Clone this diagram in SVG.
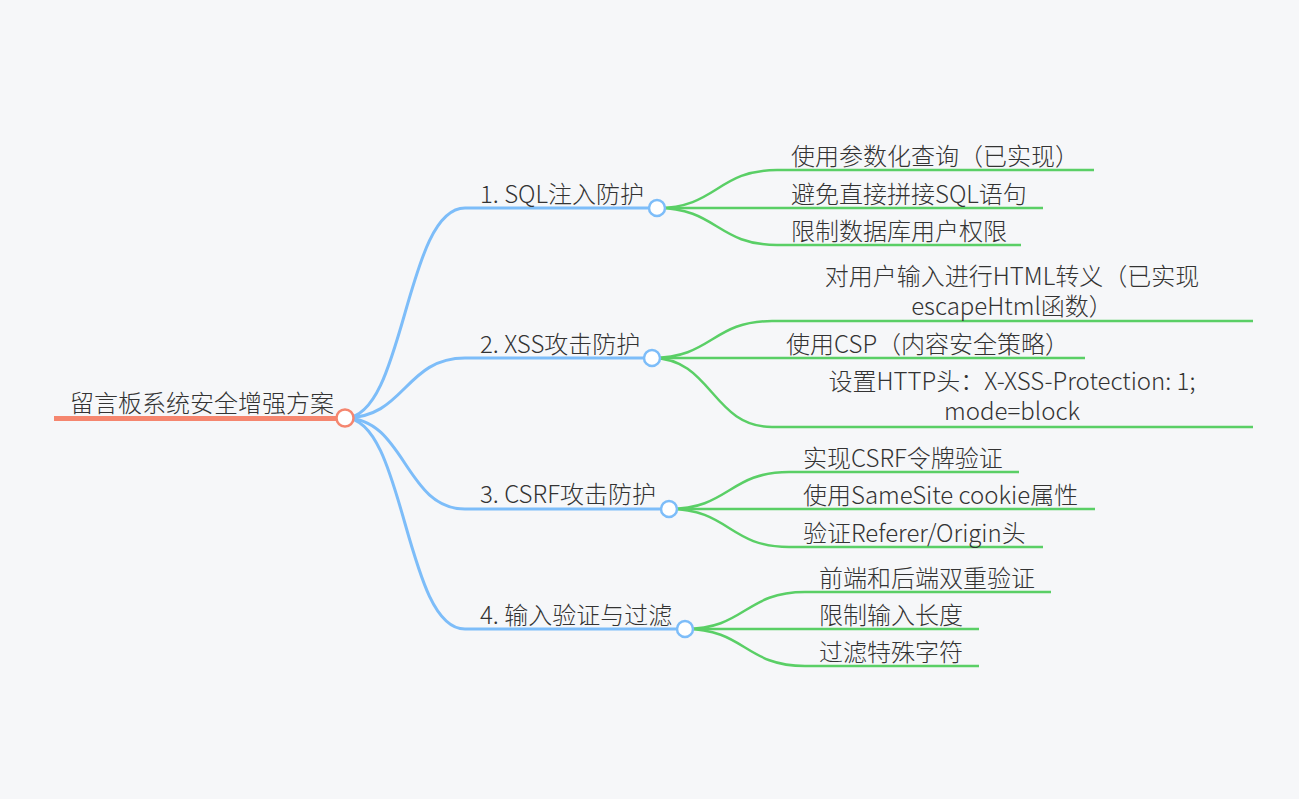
<svg xmlns="http://www.w3.org/2000/svg" width="1299" height="799" viewBox="0 0 1299 799">
<style>
text{font-family:"Noto Sans CJK SC","Noto Sans",sans-serif;font-size:24px;font-weight:300;fill:#333333}
.mid{text-anchor:middle}
.lb{fill:none;stroke:#7DBDF9;stroke-width:3}
.lg{fill:none;stroke:#5ACF66;stroke-width:2.5}
.ub{stroke:#7DBDF9;stroke-width:3}
.ug{stroke:#5ACF66;stroke-width:2.5}
.cb{fill:#ffffff;stroke:#7DBDF9;stroke-width:2.5}
</style>
<rect width="1299" height="799" fill="#F6F7F9"/>
<g id="connectors">
<path class="lb" d="M345,418 C405,418 405,208 465,208"/>
<path class="lb" d="M345,418 C405,418 405,358 465,358"/>
<path class="lb" d="M345,418 C405,418 405,509 465,509"/>
<path class="lb" d="M345,418 C405,418 405,629 465,629"/>
<path class="lg" d="M657,208 C717,208 717,170 777,170"/>
<path class="lg" d="M657,208 L777,208"/>
<path class="lg" d="M657,208 C717,208 717,245 777,245"/>
<path class="lg" d="M652,358 C712,358 712,321 772,321"/>
<path class="lg" d="M652,358 L772,358"/>
<path class="lg" d="M652,358 C712,358 712,427 772,427"/>
<path class="lg" d="M669,509 C729,509 729,472 789,472"/>
<path class="lg" d="M669,509 L789,509"/>
<path class="lg" d="M669,509 C729,509 729,547 789,547"/>
<path class="lg" d="M685,629 C745,629 745,592 805,592"/>
<path class="lg" d="M685,629 L805,629"/>
<path class="lg" d="M685,629 C745,629 745,666 805,666"/>
</g>
<g id="leaf-1-1"><line class="ug" x1="777" y1="170" x2="1094" y2="170"/><text x="791" y="165">使用参数化查询（已实现）</text></g>
<g id="leaf-1-2"><line class="ug" x1="777" y1="208" x2="1043" y2="208"/><text x="791" y="203">避免直接拼接SQL语句</text></g>
<g id="leaf-1-3"><line class="ug" x1="777" y1="245" x2="1021" y2="245"/><text x="791" y="240">限制数据库用户权限</text></g>
<g id="leaf-2-1"><line class="ug" x1="772" y1="321" x2="1253" y2="321"/><text class="mid"><tspan x="1012" y="285">对用户输入进行HTML转义（已实现</tspan><tspan x="1012" y="315">escapeHtml函数）</tspan></text></g>
<g id="leaf-2-2"><line class="ug" x1="772" y1="358" x2="1085" y2="358"/><text x="786" y="353">使用CSP（内容安全策略）</text></g>
<g id="leaf-2-3"><line class="ug" x1="772" y1="427" x2="1253" y2="427"/><text class="mid"><tspan x="1012" y="390">设置HTTP头：X-XSS-Protection: 1;</tspan><tspan x="1012" y="420">mode=block</tspan></text></g>
<g id="leaf-3-1"><line class="ug" x1="789" y1="472" x2="1019" y2="472"/><text x="803" y="467">实现CSRF令牌验证</text></g>
<g id="leaf-3-2"><line class="ug" x1="789" y1="509" x2="1095" y2="509"/><text x="803" y="504">使用SameSite cookie属性</text></g>
<g id="leaf-3-3"><line class="ug" x1="789" y1="547" x2="1043" y2="547"/><text x="803" y="542">验证Referer/Origin头</text></g>
<g id="leaf-4-1"><line class="ug" x1="805" y1="592" x2="1051" y2="592"/><text x="819" y="587">前端和后端双重验证</text></g>
<g id="leaf-4-2"><line class="ug" x1="805" y1="629" x2="979" y2="629"/><text x="819" y="624">限制输入长度</text></g>
<g id="leaf-4-3"><line class="ug" x1="805" y1="666" x2="979" y2="666"/><text x="819" y="661">过滤特殊字符</text></g>
<g id="branch-1"><line class="ub" x1="465" y1="208" x2="657" y2="208"/><text x="480" y="203">1. SQL注入防护</text><circle class="cb" cx="657" cy="208" r="8"/></g>
<g id="branch-2"><line class="ub" x1="465" y1="358" x2="652" y2="358"/><text x="480" y="353">2. XSS攻击防护</text><circle class="cb" cx="652" cy="358" r="8"/></g>
<g id="branch-3"><line class="ub" x1="465" y1="509" x2="669" y2="509"/><text x="480" y="503">3. CSRF攻击防护</text><circle class="cb" cx="669" cy="509" r="8"/></g>
<g id="branch-4"><line class="ub" x1="465" y1="629" x2="685" y2="629"/><text x="480" y="624">4. 输入验证与过滤</text><circle class="cb" cx="685" cy="629" r="8"/></g>
<g id="root"><line x1="54" y1="418.5" x2="345" y2="418.5" stroke="#F5866F" stroke-width="5"/><text x="70" y="412">留言板系统安全增强方案</text><circle cx="345" cy="418" r="8.5" fill="#ffffff" stroke="#F5866F" stroke-width="2.5"/></g>
</svg>
